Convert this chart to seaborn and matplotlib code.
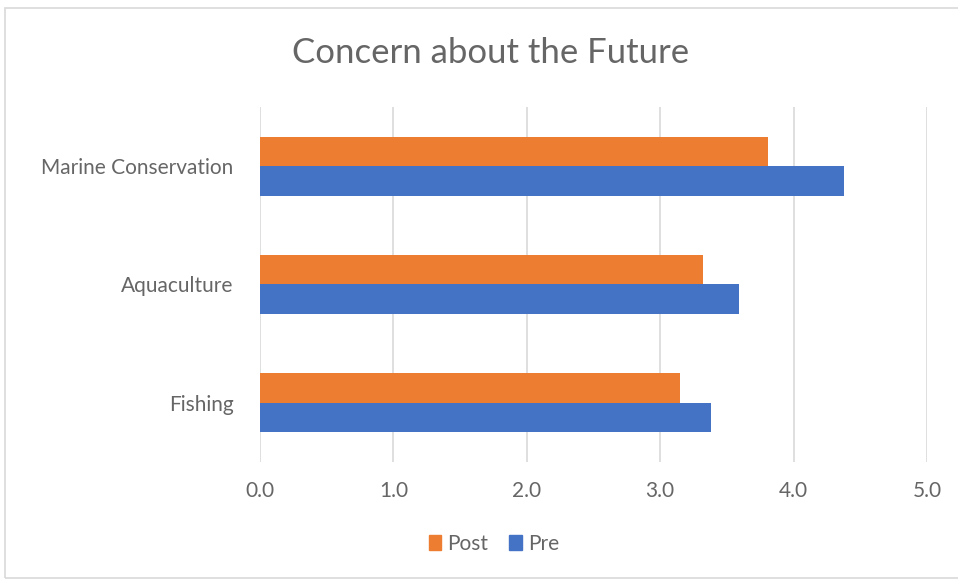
import matplotlib
matplotlib.use("Agg")
import matplotlib.pyplot as plt
import matplotlib.patches as mpatches
import seaborn as sns
import pandas as pd

categories = ["Marine Conservation", "Aquaculture", "Fishing"]
post_values = [3.81, 3.32, 3.15]
pre_values = [4.38, 3.59, 3.38]
series = ["Post", "Pre"]
x_ticks = [0.0, 1.0, 2.0, 3.0, 4.0, 5.0]

df = pd.DataFrame({
    "category": categories * 2,
    "value": post_values + pre_values,
    "series": ["Post"] * len(categories) + ["Pre"] * len(categories),
})

sns.set_theme(style="white")
plt.rcParams["font.family"] = ["Lato", "DejaVu Sans"]

fig = plt.figure(figsize=(9.58, 5.82), dpi=100)
ax = fig.add_axes([260 / 958, 1 - 462 / 582, (927 - 260) / 958, (462 - 107) / 582])

palette = {"Post": "#ED7D31", "Pre": "#4472C4"}
sns.barplot(data=df, y="category", x="value", hue="series", hue_order=series,
            order=categories, orient="h", palette=palette, width=0.5,
            saturation=1, ax=ax, legend=False, linewidth=0)

ax.set_xlim(0, 5)
ax.set_xticks(x_ticks)
ax.set_xticklabels([f"{t:.1f}" for t in x_ticks])
ax.set_xlabel("")
ax.set_ylabel("")
ax.grid(axis="x", color="#D9D9D9", linewidth=1.2)
ax.set_axisbelow(True)
for s in ax.spines.values():
    s.set_visible(False)
ax.tick_params(axis="both", length=0, colors="#666666", labelsize=15)
ax.tick_params(axis="x", pad=14)
ax.tick_params(axis="y", pad=19)

fig.text(491 / 958, 1 - 53 / 582, "Concern about the Future", ha="center", va="center",
         fontsize=25, color="#666666")

handles = [mpatches.Patch(color=palette[s], label=s) for s in series]
fig.legend(handles=handles, loc="center", bbox_to_anchor=(494 / 958, 1 - 544 / 582),
           ncol=2, frameon=False, fontsize=15, handlelength=0.6, handleheight=0.7,
           handletextpad=0.3, columnspacing=1.0, labelcolor="#666666")

fig.patches.append(mpatches.Rectangle((5 / 958, 4 / 582), 960 / 958, 570 / 582,
                                      transform=fig.transFigure, fill=False,
                                      edgecolor="#D9D9D9", linewidth=1.2))

fig.savefig("out.png", dpi=100, facecolor="white")
